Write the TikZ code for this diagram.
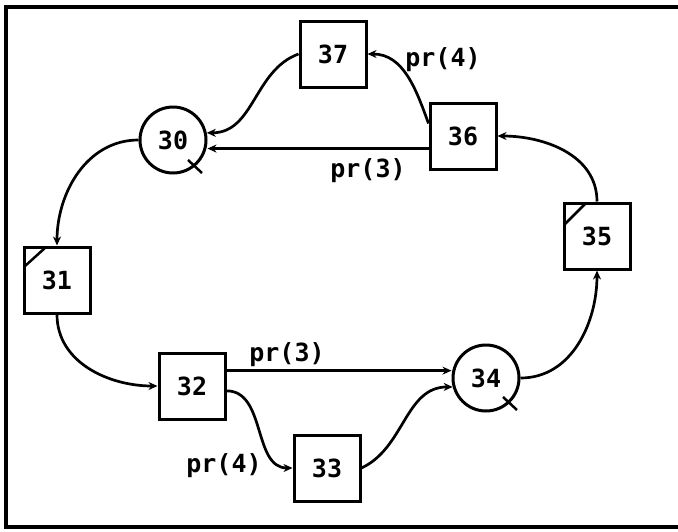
\documentclass[tikz,border=0pt]{standalone}
\usepackage{fontspec}
\setmainfont{DejaVu Sans Mono}
\usetikzlibrary{arrows.meta,calc}
\begin{document}
\begin{tikzpicture}[x=1pt,y=-1pt,
  every node/.style={font=\fontsize{25}{28}\selectfont\bfseries},
  box/.style={draw,line width=3pt,minimum size=66pt,inner sep=0pt},
  place/.style={draw,circle,line width=3pt,minimum size=66pt,inner sep=0pt},
  conn/.style={line width=2.7pt,-{Stealth[length=9pt,width=8pt]}},
  tick/.style={line width=2.5pt},
  lbl/.style={inner sep=1pt}]
\useasboundingbox (0,0) rectangle (678,531);
\draw[line width=3.2pt] (678,7) -- (6,7) -- (6,527) -- (678,527);
% nodes
\node[box]   (n37) at (333,54)  {37};
\node[place] (n30) at (173,140) {30};
\node[box]   (n36) at (463,136) {36};
\node[box]   (n35) at (597,236) {35};
\node[box]   (n31) at (57,280)  {31};
\node[box]   (n32) at (192,386) {32};
\node[box]   (n33) at (327,468) {33};
\node[place] (n34) at (486,378) {34};
% marks
\draw[tick] ($(n30)+(15,20)$) -- ($(n30)+(29,33)$);
\draw[tick] ($(n34)+(17,19)$) -- ($(n34)+(31,32)$);
\draw[tick] ($(n35.north west)+(23,2)$) -- ($(n35.north west)+(2,23)$);
\draw[tick] ($(n31.north west)+(23,2)$) -- ($(n31.north west)+(2,21)$);
% connectors
\draw[conn] (n30.west) to[out=180,in=90] (n31.north);
\draw[conn] (n31.south) to[out=-90,in=180] (n32.west);
\draw[conn] (n32.24) -- (n32.24 -| n34.west);
\draw[conn] (n32.-8) to[out=0,in=180] (n33.west);
\draw[conn] (n33.east) to[out=25,in=180] (n34.-165);
\draw[conn] (n34.east) to[out=0,in=-90] (n35.south);
\draw[conn] (n35.north) to[out=90,in=0] (n36.east);
\draw[conn] (n36.200) -- (n36.200 -| n30.east);
\draw[conn] (n36.160) to[out=110,in=0] (n37.east);
\draw[conn] (n37.west) to[out=200,in=0] (n30.12);
% labels
\node[lbl] (l1) at (443,60)  {pr(4)};
\node[lbl] (l2) at (368,171) {pr(3)};
\node[lbl] (l3) at (287,355) {pr(3)};
\node[lbl] (l4) at (224,466) {pr(4)};
\end{tikzpicture}
\end{document}
